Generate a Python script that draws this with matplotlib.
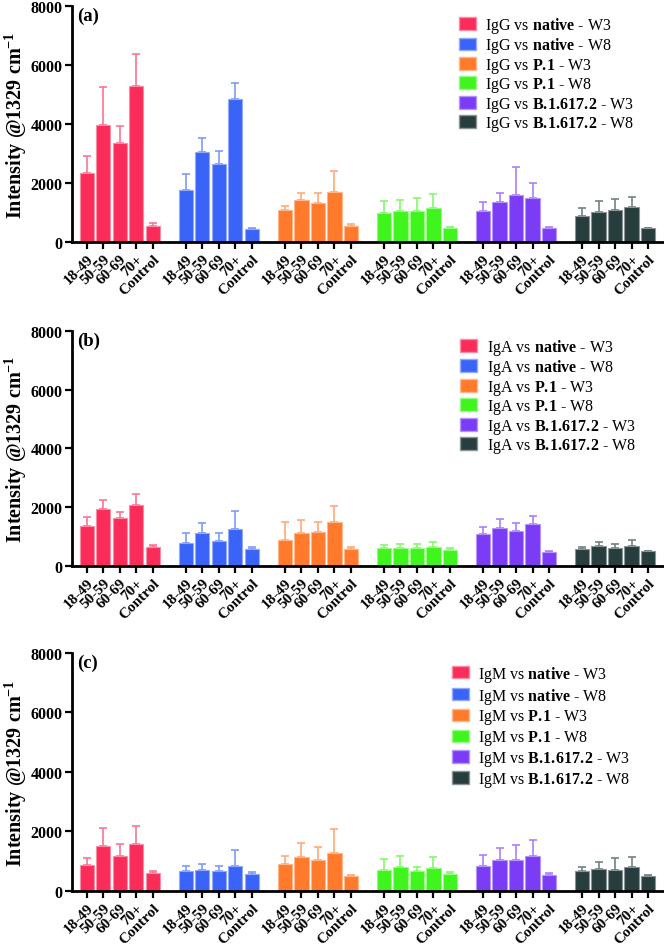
import numpy as np
import matplotlib
matplotlib.use("Agg")
import matplotlib.pyplot as plt
from matplotlib.colors import to_rgb
from matplotlib.patches import Patch

plt.rcParams['font.family'] = ['Liberation Serif', 'DejaVu Serif']
plt.rcParams['mathtext.fontset'] = 'custom'
plt.rcParams['mathtext.rm'] = 'Liberation Serif'
plt.rcParams['mathtext.bf'] = 'Liberation Serif:bold'

ages = ["18-49", "50-59", "60-69", "70+", "Control"]
variants = ["native", "native", "P.1", "P.1", "B.1.617.2", "B.1.617.2"]
weeks = ["W3", "W8", "W3", "W8", "W3", "W8"]
colors = ["#FA2C5A", "#3A64F8", "#FF7A2B", "#40F51E", "#7A3CF5", "#283E3E"]
antibodies = ["IgG", "IgA", "IgM"]
panels = ["(a)", "(b)", "(c)"]

# means, one row per series (6 series x 5 age groups)
igg_mean = [[2340, 3960, 3340, 5300, 550],
            [1765, 3055, 2645, 4830, 452],
            [1075, 1415, 1325, 1685, 532],
            [975, 1050, 1050, 1140, 486],
            [1050, 1370, 1585, 1495, 486],
            [895, 1030, 1085, 1200, 486]]
igg_sd = [[560, 1290, 585, 1080, 83],
          [543, 463, 455, 566, 34],
          [158, 248, 338, 713, 79],
          [405, 364, 432, 478, 14],
          [296, 282, 972, 518, 9],
          [270, 350, 363, 327, 4]]

iga_mean = [[1357, 1946, 1629, 2093, 633],
            [792, 1109, 848, 1267, 588],
            [871, 1120, 1143, 1505, 588],
            [611, 611, 611, 645, 554],
            [1075, 1290, 1188, 1425, 486],
            [588, 667, 611, 679, 498]]
iga_sd = [[306, 294, 204, 373, 68],
          [317, 350, 261, 622, 57],
          [611, 430, 362, 531, 57],
          [90, 124, 147, 158, 46],
          [237, 305, 271, 272, 23],
          [57, 159, 136, 203, 7]]

igm_mean = [[887, 1526, 1190, 1571, 595],
            [673, 707, 673, 853, 561],
            [920, 1156, 1055, 1291, 505],
            [707, 808, 673, 786, 572],
            [853, 1044, 1033, 1167, 550],
            [662, 730, 718, 808, 505]]
igm_sd = [[213, 595, 404, 618, 90],
          [180, 213, 180, 539, 68],
          [258, 471, 438, 808, 22],
          [370, 370, 146, 370, 57],
          [370, 393, 527, 550, 56],
          [135, 235, 382, 337, 22]]

means = [igg_mean, iga_mean, igm_mean]
sds = [igg_sd, iga_sd, igm_sd]


def tint(c, f=0.35):
    r = np.array(to_rgb(c))
    return tuple(r + (1 - r) * f)


fig = plt.figure(figsize=(6.64, 9.45), dpi=100)
boxes = [[0.1084, 0.7429, 0.890, 0.2497],
         [0.1084, 0.4000, 0.890, 0.2487],
         [0.1084, 0.0561, 0.890, 0.2519]]
leg_pos = [(0.655, 0.962), (0.657, 0.975), (0.643, 0.955)]
leg_space = [0.03, 0.03, 0.12]

for p in range(3):
    ax = fig.add_axes(boxes[p])
    ticks = []
    labels = []
    for s in range(6):
        x = np.arange(5) + s * 6
        m = np.array(means[p][s])
        e = np.array(sds[p][s])
        ax.errorbar(x, m, yerr=[np.zeros(5), e], fmt='none', ecolor=tint(colors[s]),
                    elinewidth=1.2, capsize=3, capthick=1.2, zorder=1)
        ax.bar(x, m, width=0.86, color=colors[s], edgecolor=tint(colors[s], 0.45),
               linewidth=0.8, zorder=2)
        ticks += list(x)
        labels += ages

    ax.set_xlim(-0.9, 34.9)
    ax.set_ylim(0, 8000)
    ax.set_yticks([0, 2000, 4000, 6000, 8000])
    ax.set_xticks(ticks)
    ax.set_xticklabels(labels, rotation=45, ha='right', rotation_mode='anchor',
                       fontsize=11, fontweight='bold')
    for t in ax.get_yticklabels():
        t.set_fontweight('bold')
        t.set_fontsize(11.5)
    ax.tick_params(axis='both', direction='out', length=5, width=1.6, pad=2)
    ax.spines['top'].set_visible(False)
    ax.spines['right'].set_visible(False)
    ax.spines['left'].set_linewidth(2)
    ax.spines['bottom'].set_linewidth(2)
    ax.set_ylabel("Intensity @1329 cm$^{\\mathbf{-1}}$", fontsize=14.5, fontweight='bold', labelpad=1)
    ax.text(0.008, 0.995, panels[p], transform=ax.transAxes, fontsize=13.5,
            fontweight='bold', va='top', ha='left')

    handles = []
    for s in range(6):
        v = variants[s].replace(".", ".\\!")
        lab = antibodies[p] + " vs $\\mathbf{" + v + "}$ - " + weeks[s]
        handles.append(Patch(facecolor=colors[s], edgecolor=tint(colors[s], 0.45), label=lab))
    ax.legend(handles=handles, loc='upper left', bbox_to_anchor=leg_pos[p], frameon=False,
              fontsize=11.5, borderpad=0, labelspacing=leg_space[p], handlelength=1.05,
              handleheight=0.85, handletextpad=0.6, borderaxespad=0)

fig.savefig("out.png", dpi=100)
